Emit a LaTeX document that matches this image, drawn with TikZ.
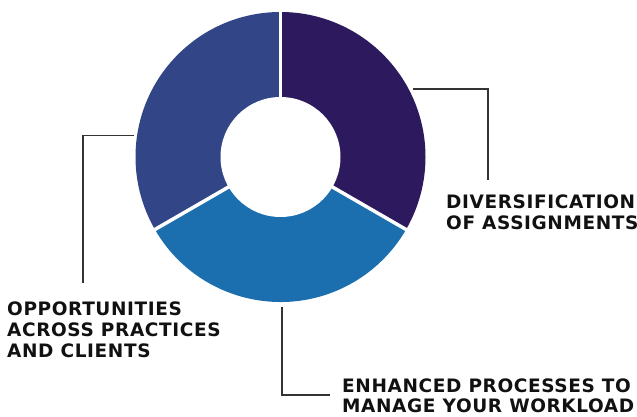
\documentclass[tikz,border=0pt]{standalone}
\usepackage{fontspec}
\setmainfont{DejaVu Sans}
\newfontfamily\lblfont[LetterSpace=3.3]{DejaVu Sans}
\definecolor{segpurple}{HTML}{2D1A5E}
\definecolor{segnavy}{HTML}{324687}
\definecolor{segblue}{HTML}{1B6FAE}
\definecolor{leadgray}{HTML}{333333}
\definecolor{txt}{HTML}{111111}
\begin{document}
\begin{tikzpicture}[x=1pt,y=1pt,
  leader/.style={draw=leadgray,line width=1.1pt},
  gap/.style={draw=white,line width=3.5pt},
  lbl/.style={anchor=north west,inner sep=0pt,align=left,text=txt,
    font=\lblfont\fontsize{18.5}{21}\selectfont\bfseries}]
\useasboundingbox (0,0) rectangle (637,417);
\coordinate (C) at (280.5,260);
% donut segments
\fill[segpurple] (C) -- ++(90:145) arc[start angle=90,end angle=-30,radius=145] -- cycle;
\fill[segnavy] (C) -- ++(90:145) arc[start angle=90,end angle=210,radius=145] -- cycle;
\fill[segblue] (C) -- ++(210:145) arc[start angle=210,end angle=330,radius=145] -- cycle;
\draw[gap] (C) -- ++(90:150);
\draw[gap] (C) -- ++(-30:150);
\draw[gap] (C) -- ++(210:150);
\fill[white] (C) circle[radius=60];
% leader points
\coordinate (r1) at (413,328);
\coordinate (r2) at (488,237);
\coordinate (l1) at (134,281.3);
\coordinate (l2) at (83,134);
\coordinate (b1) at (282,110);
\coordinate (b2) at (330,22);
\draw[leader] (r1) -| (r2);
\draw[leader] (l1) -| (l2);
\draw[leader] (b1) |- (b2);
% labels
\node[lbl] (tr) at (446,222) {DIVERSIFICATION\\OF ASSIGNMENTS};
\node[lbl] (tl) at (7,115) {OPPORTUNITIES\\ACROSS PRACTICES\\AND CLIENTS};
\node[lbl,font=\lblfont\fontsize{18.5}{20}\selectfont\bfseries] (tb) at (342,38) {ENHANCED PROCESSES TO\\MANAGE YOUR WORKLOAD};
\end{tikzpicture}
\end{document}
